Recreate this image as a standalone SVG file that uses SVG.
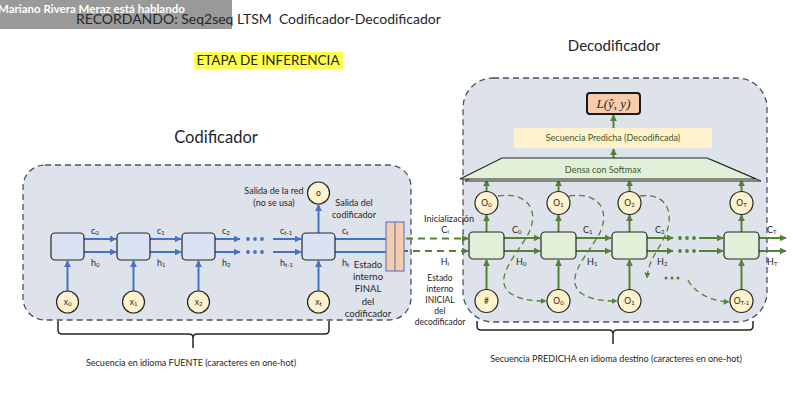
<svg xmlns="http://www.w3.org/2000/svg" width="793" height="412" viewBox="0 0 793 412">
<style>
text{font-family:Lato,"Liberation Sans",sans-serif;fill:#262626}
.lbl{font-size:9px}
.sm{font-size:8.5px}
.sub{font-size:6px}
.panel{fill:#dde2eb;stroke:#44546a;stroke-width:1.3;stroke-dasharray:6 4}
.ecell{fill:#dae3f3;stroke:#262626;stroke-width:1.2}
.dcell{fill:#e2f0d9;stroke:#262626;stroke-width:1.2}
.circ{fill:#fff2cc;stroke:#262626;stroke-width:1.2}
.ba{stroke:#4472c4;stroke-width:2;fill:none;marker-end:url(#ab)}
.ga{stroke:#548235;stroke-width:2;fill:none;marker-end:url(#ag)}
.gd{stroke:#548235;stroke-width:2;fill:none;stroke-dasharray:7 5;marker-end:url(#ag)}
.gcm{stroke:#548235;stroke-width:1.3;fill:none;stroke-dasharray:6 4;marker-end:url(#ag2)}
.brace{stroke:#262626;stroke-width:1.5;fill:none}
.gt{fill:#3b5a2a}
.st{font-size:9.5px}
.st2{font-size:8.5px}
</style>
<defs>
<marker id="ab" viewBox="0 0 10 10" refX="9" refY="5" markerWidth="7" markerHeight="7" markerUnits="userSpaceOnUse" orient="auto"><path d="M0,0L10,5L0,10z" fill="#4472c4"/></marker>
<marker id="ag" viewBox="0 0 10 10" refX="9" refY="5" markerWidth="7" markerHeight="7" markerUnits="userSpaceOnUse" orient="auto"><path d="M0,0L10,5L0,10z" fill="#548235"/></marker>
<marker id="ag2" viewBox="0 0 10 10" refX="9" refY="5" markerWidth="6" markerHeight="6" markerUnits="userSpaceOnUse" orient="auto"><path d="M0,0L10,5L0,10z" fill="#548235"/></marker>
</defs>
<rect width="793" height="412" fill="#ffffff"/>

<!-- header -->
<rect x="0" y="0" width="232" height="29" fill="#9a9a9a"/>
<text x="76" y="24" style="font-size:14px;white-space:pre" xml:space="preserve">RECORDANDO: Seq2seq LTSM  Codificador-Decodificador</text>
<text x="-2" y="13" style="font-size:11.5px;font-weight:bold;fill:#ffffff">Mariano Rivera Meraz está hablando</text>
<rect x="194" y="52" width="149" height="17" fill="#ffff4d"/>
<text x="268" y="65" text-anchor="middle" style="font-size:13.5px">ETAPA DE INFERENCIA</text>

<!-- panels -->
<g id="encoder-panel">
<rect class="panel" x="23" y="165" width="388" height="155" rx="22"/>
<text x="216" y="143" text-anchor="middle" style="font-size:16.5px">Codificador</text>
</g>
<g id="decoder-panel">
<rect class="panel" x="463" y="78" width="304" height="244" rx="30"/>
<text x="614" y="51" text-anchor="middle" style="font-size:15px">Decodificador</text>
</g>

<!-- connectors -->
<g id="connectors">
<path class="ba" d="M84,239H116"/><path class="ba" d="M84,252H116"/>
<path class="ba" d="M150,239H181"/><path class="ba" d="M150,252H181"/>
<path class="ba" d="M215,239H240"/><path class="ba" d="M215,252H240"/>
<path class="ba" d="M273,239H301"/><path class="ba" d="M273,252H301"/>
<path class="ba" d="M335,239H393"/><path class="ba" d="M335,252H398"/>
<path class="ba" d="M67.5,291V261"/>
<path class="ba" d="M133.5,291V261"/>
<path class="ba" d="M198.5,291V261"/>
<path class="ba" d="M318.5,291V261"/>
<path class="ba" d="M318.5,233V205"/>
<path class="gd" d="M394,238.5H468"/>
<path class="gd" d="M401,251H468"/>
<path class="ga" d="M504,238H540"/><path class="ga" d="M504,251H540"/>
<path class="ga" d="M576,238H611"/><path class="ga" d="M576,251H611"/>
<path class="ga" d="M647,238H673"/><path class="ga" d="M647,251H673"/>
<path class="ga" d="M699,238H723"/><path class="ga" d="M699,251H723"/>
<path class="ga" d="M759,238H786"/><path class="ga" d="M759,251H786"/>
<path class="ga" d="M486.5,289.5V260"/><path class="ga" d="M558.5,289.5V260"/><path class="ga" d="M629.5,289.5V260"/><path class="ga" d="M741.5,289.5V260"/>
<path class="ga" d="M486.5,232V215"/><path class="ga" d="M558.5,232V215"/><path class="ga" d="M629.5,232V215"/><path class="ga" d="M741.5,232V215"/>
<path class="ga" d="M486.5,191.5V180"/><path class="ga" d="M558.5,191.5V180"/><path class="ga" d="M629.5,191.5V180"/><path class="ga" d="M741.5,191.5V180"/>
<path class="ga" d="M613.5,159V149"/>
<path class="ga" d="M613.5,128V115"/>
<path class="gcm" d="M498,196C528,191 542,212 526,238C512,260 494,280 510,293C520,300 533,301 546,301"/>
<path class="gcm" d="M569,196C599,191 613,212 597,238C583,260 565,280 581,293C591,300 604,301 617,301"/>
<path class="gcm" d="M640,196C670,192 676,218 662,242C654,256 648,264 647,278"/>
<path class="gcm" d="M688,280C694,292 710,301 729,302"/>
</g>

<!-- encoder nodes -->
<g id="enc-cell-0"><rect class="ecell" x="51" y="233" width="33" height="27" rx="4"/></g>
<g id="enc-cell-1"><rect class="ecell" x="117" y="233" width="33" height="27" rx="4"/></g>
<g id="enc-cell-2"><rect class="ecell" x="182" y="233" width="33" height="27" rx="4"/></g>
<g id="enc-cell-t"><rect class="ecell" x="302" y="233" width="33" height="27" rx="4"/></g>
<g id="enc-dots" fill="#4472c4">
<circle cx="248" cy="239" r="1.9"/><circle cx="255" cy="239" r="1.9"/><circle cx="262" cy="239" r="1.9"/>
<circle cx="248" cy="252" r="1.9"/><circle cx="255" cy="252" r="1.9"/><circle cx="262" cy="252" r="1.9"/>
</g>
<g id="enc-labels" class="lbl">
<text x="91" y="234">c<tspan class="sub" dy="1">0</tspan></text>
<text x="91" y="266">h<tspan class="sub" dy="1">0</tspan></text>
<text x="157" y="234">c<tspan class="sub" dy="1">1</tspan></text>
<text x="157" y="266">h<tspan class="sub" dy="1">1</tspan></text>
<text x="222" y="234">c<tspan class="sub" dy="1">2</tspan></text>
<text x="222" y="266">h<tspan class="sub" dy="1">2</tspan></text>
<text x="280" y="234">c<tspan class="sub" dy="1">t-1</tspan></text>
<text x="280" y="266">h<tspan class="sub" dy="1">t-1</tspan></text>
<text x="342" y="234">c<tspan class="sub" dy="1">t</tspan></text>
<text x="342" y="266">h<tspan class="sub" dy="1">t</tspan></text>
</g>
<g id="enc-x0"><circle class="circ" cx="67.5" cy="302" r="11"/><text x="67.5" y="305" text-anchor="middle" class="sm">x<tspan class="sub" dy="1">0</tspan></text></g>
<g id="enc-x1"><circle class="circ" cx="133.5" cy="302" r="11"/><text x="133.5" y="305" text-anchor="middle" class="sm">x<tspan class="sub" dy="1">1</tspan></text></g>
<g id="enc-x2"><circle class="circ" cx="198.5" cy="302" r="11"/><text x="198.5" y="305" text-anchor="middle" class="sm">x<tspan class="sub" dy="1">2</tspan></text></g>
<g id="enc-xt"><circle class="circ" cx="318.5" cy="302" r="11"/><text x="318.5" y="305" text-anchor="middle" class="sm">x<tspan class="sub" dy="1">t</tspan></text></g>
<g id="enc-out"><circle class="circ" cx="318.5" cy="193" r="11"/><text x="318.5" y="196" text-anchor="middle" class="sm">o</text></g>
<g id="enc-notes" class="lbl" text-anchor="middle">
<text x="274" y="194">Salida de la red</text>
<text x="274" y="206">(no se usa)</text>
<text x="354" y="206">Salida del</text>
<text x="354" y="218">codificador</text>
<text x="368" y="268" class="st">Estado</text>
<text x="368" y="280" class="st">interno</text>
<text x="368" y="292" class="st">FINAL</text>
<text x="368" y="305" class="st">del</text>
<text x="368" y="317" class="st">codificador</text>
</g>
<g id="final-state">
<rect x="386" y="222" width="18" height="49" fill="#f8cbad" stroke="#4472c4" stroke-width="1"/>
<line x1="395" y1="222" x2="395" y2="271" stroke="#4472c4" stroke-width="1"/>
</g>
<g id="init-notes" class="lbl" text-anchor="middle">
<text x="449" y="222">Inicialización</text>
<text x="445" y="233">C<tspan class="sub" dy="1">I</tspan></text>
<text x="445" y="265">H<tspan class="sub" dy="1">I</tspan></text>
<text x="440" y="281" class="st2">Estado</text>
<text x="440" y="292" class="st2">interno</text>
<text x="440" y="303" class="st2">INICIAL</text>
<text x="440" y="314" class="st2">del</text>
<text x="440" y="325" class="st2">decodificador</text>
</g>

<!-- decoder nodes -->
<g id="dec-loss"><rect x="587" y="93" width="53" height="21" rx="3" fill="#f8cbad" stroke="#1a1a1a" stroke-width="2"/><text x="613.5" y="108" text-anchor="middle" style="font-family:'Liberation Serif',serif;font-style:italic;font-size:13px">L(ŷ, y)</text></g>
<g id="dec-seq"><rect x="514" y="128" width="198" height="20" fill="#fff2cc"/><text x="613" y="141" text-anchor="middle" class="lbl gt">Secuencia Predicha (Decodificada)</text></g>
<g id="dec-dense">
<polygon points="506,160 712,160 761,181 465,181" fill="#e2f0d9" stroke="#262626" stroke-width="1"/>
<polygon points="502,158 707,158 756,179 460,179" fill="#e2f0d9" stroke="#262626" stroke-width="1.2"/>
<text x="603" y="173" text-anchor="middle" class="lbl gt">Densa con Softmax</text>
</g>
<g id="dec-cell-0"><rect class="dcell" x="469" y="232" width="35" height="27" rx="4"/></g>
<g id="dec-cell-1"><rect class="dcell" x="541" y="232" width="35" height="27" rx="4"/></g>
<g id="dec-cell-2"><rect class="dcell" x="612" y="232" width="35" height="27" rx="4"/></g>
<g id="dec-cell-T"><rect class="dcell" x="724" y="232" width="35" height="27" rx="4"/></g>
<g id="dec-dots" fill="#548235">
<circle cx="680" cy="238" r="1.9"/><circle cx="687" cy="238" r="1.9"/><circle cx="694" cy="238" r="1.9"/>
<circle cx="680" cy="251" r="1.9"/><circle cx="687" cy="251" r="1.9"/><circle cx="694" cy="251" r="1.9"/>
<circle cx="666" cy="278" r="1.5"/><circle cx="672" cy="278" r="1.5"/><circle cx="678" cy="278" r="1.5"/>
</g>
<g id="dec-labels" class="lbl">
<text x="512" y="233">C<tspan class="sub" dy="1">0</tspan></text>
<text x="516" y="265">H<tspan class="sub" dy="1">0</tspan></text>
<text x="583" y="233">C<tspan class="sub" dy="1">1</tspan></text>
<text x="587" y="265">H<tspan class="sub" dy="1">1</tspan></text>
<text x="655" y="233">C<tspan class="sub" dy="1">2</tspan></text>
<text x="657" y="265">H<tspan class="sub" dy="1">2</tspan></text>
<text x="767" y="233">C<tspan class="sub" dy="1">T</tspan></text>
<text x="767" y="265">H<tspan class="sub" dy="1">T</tspan></text>
</g>
<g id="dec-o0"><circle class="circ" cx="486.5" cy="203" r="11.5"/><text x="486.5" y="206" text-anchor="middle" class="sm">O<tspan class="sub" dy="1">0</tspan></text></g>
<g id="dec-o1"><circle class="circ" cx="558.5" cy="203" r="11.5"/><text x="558.5" y="206" text-anchor="middle" class="sm">O<tspan class="sub" dy="1">1</tspan></text></g>
<g id="dec-o2"><circle class="circ" cx="629.5" cy="203" r="11.5"/><text x="629.5" y="206" text-anchor="middle" class="sm">O<tspan class="sub" dy="1">2</tspan></text></g>
<g id="dec-oT"><circle class="circ" cx="741.5" cy="203" r="11.5"/><text x="741.5" y="206" text-anchor="middle" class="sm">O<tspan class="sub" dy="1">T</tspan></text></g>
<g id="dec-in-hash"><circle class="circ" cx="486.5" cy="301" r="11.5"/><text x="486.5" y="304" text-anchor="middle" class="sm">#</text></g>
<g id="dec-in-o0"><circle class="circ" cx="558.5" cy="301" r="11.5"/><text x="558.5" y="304" text-anchor="middle" class="sm">O<tspan class="sub" dy="1">0</tspan></text></g>
<g id="dec-in-o1"><circle class="circ" cx="629.5" cy="301" r="11.5"/><text x="629.5" y="304" text-anchor="middle" class="sm">O<tspan class="sub" dy="1">1</tspan></text></g>
<g id="dec-in-oT1"><circle class="circ" cx="741.5" cy="301" r="11.5"/><text x="741.5" y="304" text-anchor="middle" class="sm">O<tspan class="sub" dy="1">T-1</tspan></text></g>

<!-- braces -->
<g id="enc-brace">
<path class="brace" d="M58,321V330Q58,334 62,334H189Q193,334 193,338V348M193,338Q193,334 197,334H325Q329,334 329,330V321"/>
<text x="191" y="366" text-anchor="middle" class="lbl">Secuencia en idioma FUENTE (caracteres en one-hot)</text>
</g>
<g id="dec-brace">
<path class="brace" d="M477,321V326Q477,330 481,330H609Q613,330 613,334V344M613,334Q613,330 617,330H749Q753,330 753,326V321"/>
<text x="616" y="362" text-anchor="middle" class="lbl">Secuencia PREDICHA en idioma destino (caracteres en one-hot)</text>
</g>
</svg>
